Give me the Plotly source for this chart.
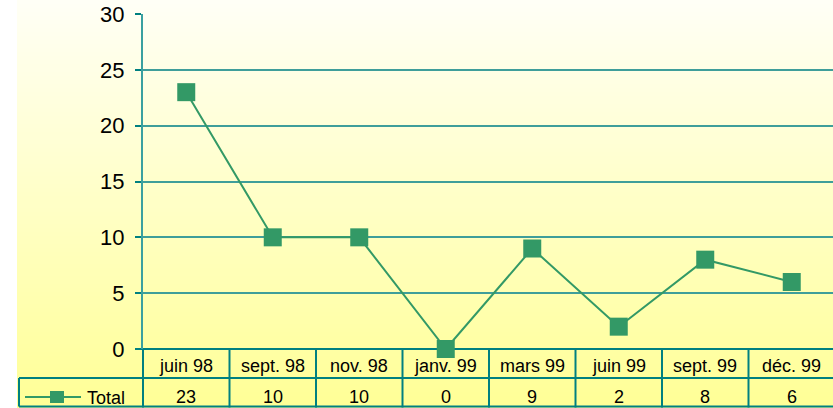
import plotly.graph_objects as go

categories = ["juin 98", "sept. 98", "nov. 98", "janv. 99", "mars 99", "juin 99", "sept. 99", "déc. 99"]
values = [23, 10, 10, 0, 9, 2, 8, 6]
series_name = "Total"
y_ticks = [0, 5, 10, 15, 20, 25, 30]

W, H = 833, 408
ML, MT, MB = 143, 14, 59
plot_w = W - ML
plot_h = H - MT - MB
col_w = 86.5
x_lo = -0.5
x_hi = len(categories) - 0.5 - (ML + col_w * len(categories) - W) / col_w
rw = x_hi - x_lo

TEAL = "#008080"
GREEN = "#339966"
FONT = "Liberation Sans, Arial, sans-serif"


def px(xp):
    return (xp - ML) / plot_w


def py(yp):
    return (H - MB - yp) / plot_h


shapes = []
# background gradient
n = 102
for i in range(n):
    y0 = i * H / n
    y1 = (i + 1) * H / n
    t = (i + 0.5) / n
    b = round(246 - (246 - 150) * t)
    shapes.append(dict(type="rect", xref="paper", yref="paper", layer="below",
                       x0=px(17), x1=px(W + 2), y0=py(y1 + 0.5), y1=py(y0),
                       fillcolor=f"rgb(255,255,{b})", line=dict(width=0)))

# table lines
row1 = H - MB          # 349
row2 = 378
row3 = 406.5
lw = 2
for k in range(len(categories) + 1):
    xx = k / rw
    shapes.append(dict(type="line", xref="paper", yref="paper", layer="below",
                       x0=xx, x1=xx, y0=py(row1), y1=py(row3 + 1),
                       line=dict(color=TEAL, width=lw)))
for yy, xs in [(row1, 136), (row2, 19), (row3, 19)]:
    shapes.append(dict(type="line", xref="paper", yref="paper", layer="below",
                       x0=px(xs), x1=px(W + 2), y0=py(yy), y1=py(yy),
                       line=dict(color=TEAL, width=lw)))
shapes.append(dict(type="line", xref="paper", yref="paper", layer="below",
                   x0=px(19), x1=px(19), y0=py(row2), y1=py(row3),
                   line=dict(color=TEAL, width=lw)))
# legend key
shapes.append(dict(type="line", xref="paper", yref="paper",
                   x0=px(25), x1=px(81), y0=py(397), y1=py(397),
                   line=dict(color=GREEN, width=2)))
shapes.append(dict(type="rect", xref="paper", yref="paper",
                   x0=px(50), x1=px(64), y0=py(403), y1=py(391),
                   fillcolor=GREEN, line=dict(width=0)))

annotations = []
for c, v in zip(categories, values):
    annotations.append(dict(x=c, xref="x", yref="paper", y=py(366), text=c,
                            showarrow=False, xanchor="center", yanchor="middle",
                            font=dict(family=FONT, size=18, color="black")))
    annotations.append(dict(x=c, xref="x", yref="paper", y=py(396.5), text=str(v),
                            showarrow=False, xanchor="center", yanchor="middle",
                            font=dict(family=FONT, size=18, color="black")))
annotations.append(dict(x=px(85), xref="paper", yref="paper", y=py(398), text=series_name,
                        showarrow=False, xanchor="left", yanchor="middle",
                        font=dict(family=FONT, size=18, color="black")))

fig = go.Figure(go.Scatter(
    x=categories, y=values, mode="lines+markers", name=series_name,
    line=dict(color=GREEN, width=2),
    marker=dict(symbol="square", size=18, color=GREEN, line=dict(width=0)),
    cliponaxis=False, showlegend=False,
))

fig.update_layout(
    width=W, height=H,
    margin=dict(l=ML, r=0, t=MT, b=MB, pad=0),
    paper_bgcolor="white", plot_bgcolor="rgba(0,0,0,0)",
    shapes=shapes, annotations=annotations,
    font=dict(family=FONT, color="black"),
    xaxis=dict(type="category", range=[x_lo, x_hi], showticklabels=False,
               showgrid=False, zeroline=False, showline=False, ticks=""),
    yaxis=dict(range=[0, 30], tickvals=y_ticks, ticks="outside", ticklen=6,
               tickcolor=TEAL, tickwidth=1.5, showline=True, linecolor="#3aa0a0", linewidth=2,
               showgrid=True, gridcolor="#3f9e9a", gridwidth=1.5, zeroline=False,
               tickfont=dict(family=FONT, size=22, color="black"), ticklabelstandoff=6),
)

fig.write_html("out.html", config={"displayModeBar": False},
               post_script="document.body.style.margin='0';document.body.style.padding='0';")
